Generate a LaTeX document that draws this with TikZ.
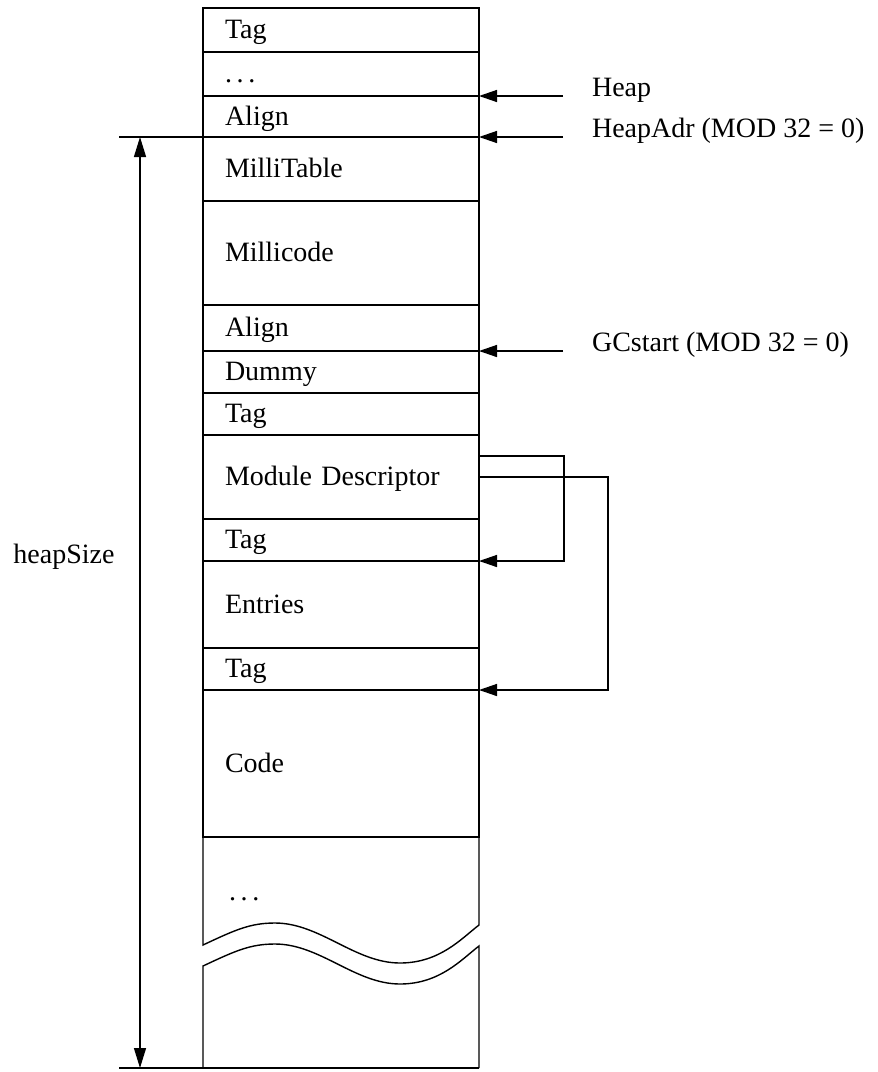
\documentclass[tikz,border=0pt]{standalone}
\usepackage{fontspec}
\setmainfont{Liberation Serif}
\usetikzlibrary{positioning,arrows.meta}
\newcommand\cellstrut{\rule[-8pt]{0pt}{33pt}}

\begin{document}
\begin{tikzpicture}[x=1pt, y=-1pt, line width=1.4pt,
    every node/.style={font=\fontsize{28}{32}\selectfont},
    cell/.style={draw, rectangle, outer sep=0pt, inner xsep=22pt, inner ysep=0pt,
                 text width=232pt, align=left, minimum width=276pt},
    ptr/.style={-{Triangle[length=18pt,width=12pt]}},
    dim/.style={{Triangle[length=20pt,width=12pt]}-{Triangle[length=20pt,width=12pt]}}]
    \useasboundingbox (0,0) rectangle (878,1072);
    % heap blocks, top to bottom
    \node[cell, minimum height=44pt, anchor=north west] (tag1) at (203,8) {\cellstrut Tag};
    \node[cell, minimum height=44pt, below=0pt of tag1] (dots1) {\cellstrut .\,.\,.};
    \node[cell, minimum height=41pt, below=0pt of dots1] (align1) {\cellstrut Align};
    \node[cell, minimum height=64pt, below=0pt of align1] (millitab) {\cellstrut MilliTable};
    \node[cell, minimum height=104pt, below=0pt of millitab] (millicode) {\cellstrut Millicode};
    \node[cell, minimum height=46pt, below=0pt of millicode] (align2) {\cellstrut Align};
    \node[cell, minimum height=42pt, below=0pt of align2] (dummy) {\cellstrut Dummy};
    \node[cell, minimum height=42pt, below=0pt of dummy] (tag2) {\cellstrut Tag};
    \node[cell, minimum height=84pt, below=0pt of tag2] (mdesc) {\cellstrut Module Descriptor};
    \node[cell, minimum height=42pt, below=0pt of mdesc] (tag3) {\cellstrut Tag};
    \node[cell, minimum height=87pt, below=0pt of tag3] (entries) {\cellstrut Entries};
    \node[cell, minimum height=42pt, below=0pt of entries] (tag4) {\cellstrut Tag};
    \node[cell, minimum height=147pt, below=0pt of tag4] (code) {\cellstrut Code};
    % open end with the break
    \node[anchor=base west] (dots2) at (225,900) {.\,.\,.};
    \draw (code.south west) -- (203,945)
        .. controls (235,930) and (250,923) .. (275,923)
        .. controls (320,923) and (355,963) .. (400,963)
        .. controls (440,963) and (462,938) .. (479,925) -- (code.south east);
    \draw (203,1068) -- (203,966)
        .. controls (235,951) and (250,944) .. (275,944)
        .. controls (320,944) and (355,984) .. (400,984)
        .. controls (440,984) and (462,959) .. (479,946) -- (479,1068);
    % pointers from the right
    \node[right=109pt of dots1.south east, anchor=base west] (heap) {Heap};
    \node[right=109pt of align1.south east, anchor=base west] (heapadr) {HeapAdr (MOD 32 = 0)};
    \node[right=109pt of align2.south east, anchor=base west] (gcstart) {GCstart (MOD 32 = 0)};
    \draw[ptr] ([xshift=-25pt]heap.base west) -- (dots1.south east);
    \draw[ptr] ([xshift=-25pt]heapadr.base west) -- (align1.south east);
    \draw[ptr] ([xshift=-25pt]gcstart.base west) -- (align2.south east);
    \draw[ptr] ([yshift=21pt]mdesc.east) -- ++(85,0) |- (tag3.south east);
    \draw[ptr] (mdesc.east) -- ++(129,0) |- (tag4.south east);
    % heap size
    \coordinate (exttop) at (119,137);
    \coordinate (extbot) at (119,1068);
    \coordinate (dimtop) at (140,137);
    \coordinate (dimbot) at (140,1068);
    \draw (exttop) -- (align1.south west);
    \draw (extbot) -- (479,1068);
    \draw[dim] (dimtop) -- (dimbot);
    \node (heapsize) at (64,557) {heapSize};
\end{tikzpicture}
\end{document}
